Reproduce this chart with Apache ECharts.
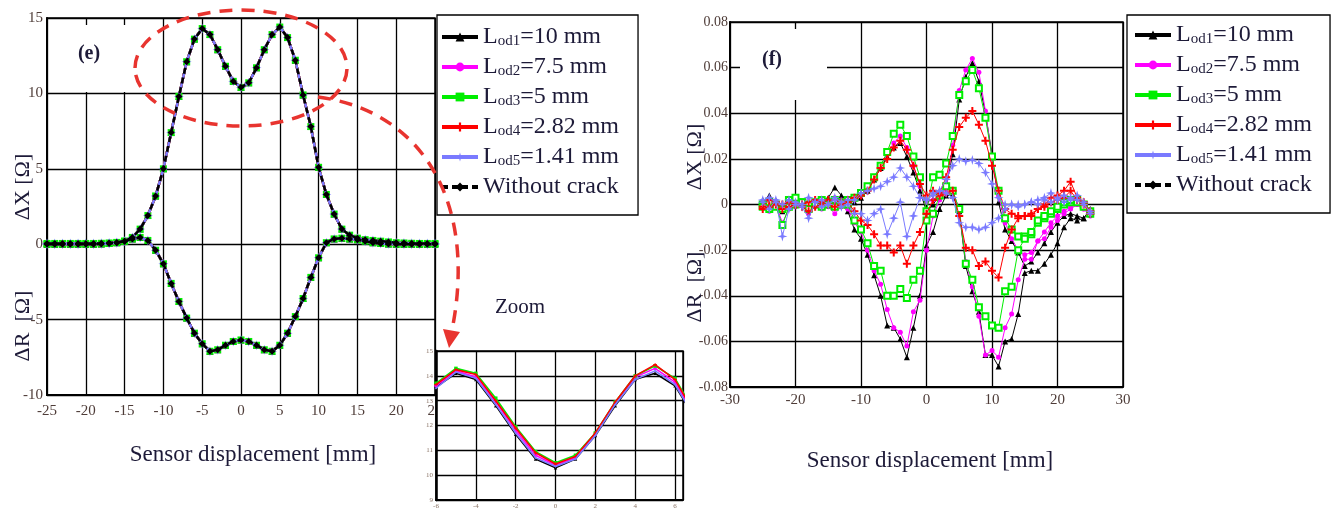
<!DOCTYPE html>
<html>
<head>
<meta charset="utf-8">
<script src="https://cdn.jsdelivr.net/npm/echarts@6/dist/echarts.min.js"></script>
<style>
html,body{margin:0;padding:0;background:#fff;}
#chart{width:1339px;height:511px;}
</style>
</head>
<body>
<div id="chart"></div>
<script>
// Sensor positions [mm]
const POS = [-25,-24,-23,-22,-21,-20,-19,-18,-17,-16,-15,-14,-13,-12,-11,-10,-9,-8,-7,-6,-5,-4,-3,-2,-1,
  0,1,2,3,4,5,6,7,8,9,10,11,12,13,14,15,16,17,18,19,20,21,22,23,24,25];
const INSET_POS = [-6,-5,-4,-3,-2,-1,0,1,2,3,4,5,6,7];

// Series names (legend)
const NAMES = ['Lod1=10 mm','Lod2=7.5 mm','Lod3=5 mm','Lod4=2.82 mm','Lod5=1.41 mm','Without crack'];

// (e) impedance change, all cracks overlap
const E_DX = [0.05,0.05,0.05,0.05,0.05,0.05,0.05,0.06,0.08,0.12,
  0.2,0.45,1.0,1.9,3.2,5.0,7.4,9.8,12.1,13.6,14.3,13.9,12.9,11.8,10.8,
  10.4,10.7,11.7,12.9,13.9,14.4,13.7,12.2,9.9,7.8,5.1,3.3,2.0,1.0,0.6,0.4,0.3,0.25,0.2,0.15,0.1,0.08,0.06,0.05,0.05,0.05];
const E_DR = [0,0,0,0,0,0,0,0.02,0.05,0.1,
  0.2,0.35,0.45,0.25,-0.4,-1.3,-2.6,-3.8,-4.9,-5.9,-6.6,-7.1,-7.0,-6.7,-6.45,
  -6.35,-6.45,-6.7,-7.0,-7.1,-6.7,-5.9,-4.8,-3.6,-2.2,-0.9,0.1,0.35,0.4,0.35,0.3,0.2,0.1,0.05,0.02,0,0,0,0,0,0];

// Zoomed ΔX peaks
const IN_LOD1 = [13.55,14.1,13.85,12.8,11.65,10.65,10.3,10.65,11.6,12.8,13.85,14.1,13.6,12.3];
const IN_LOD2 = [13.6,14.2,13.95,12.95,11.8,10.8,10.4,10.7,11.65,12.9,13.95,14.3,13.75,12.4];
const IN_LOD3 = [13.7,14.3,14.1,13.1,11.95,10.95,10.5,10.8,11.7,12.95,14.0,14.4,13.9,12.5];
const IN_LOD4 = [13.65,14.25,14.05,13.0,11.9,10.9,10.45,10.75,11.7,12.95,14.0,14.45,13.85,12.45];
const IN_LOD5 = [13.5,14.15,13.9,12.85,11.7,10.7,10.35,10.65,11.6,12.85,13.85,14.2,13.65,12.3];

// (f) differential signals
const F_X1 = [0.001,0.004,0.001,-0.001,0.000,0.001,0.000,-0.001,0.001,0.002,0.003,0.0075,0.004,0.002,0.001,
  0.003,0.006,0.011,0.016,0.021,0.025,0.027,0.021,0.014,0.006,-0.003,
  0.000,0.004,0.008,0.022,0.046,0.056,0.062,0.054,0.040,0.022,
  0.001,-0.011,-0.016,-0.021,-0.027,-0.025,-0.021,-0.017,-0.012,-0.008,-0.005,-0.004,-0.005,-0.006,-0.004];
const F_R1 = [0.002,0.001,0.000,-0.003,-0.001,0.000,0.001,-0.001,0.000,0.001,0.001,0.002,0.000,-0.003,-0.011,
  -0.015,-0.022,-0.031,-0.040,-0.053,-0.054,-0.059,-0.067,-0.054,-0.040,-0.018,
  -0.012,-0.002,0.004,0.004,-0.003,-0.027,-0.038,-0.047,-0.066,-0.066,
  -0.071,-0.060,-0.059,-0.048,-0.030,-0.029,-0.029,-0.026,-0.022,-0.017,-0.010,-0.006,-0.007,-0.006,-0.002];
const F_X2 = [0.000,0.002,0.001,-0.002,0.000,0.001,0.000,-0.002,0.000,0.001,0.001,0.003,0.002,0.001,0.002,
  0.004,0.007,0.012,0.017,0.022,0.027,0.030,0.025,0.017,0.008,0.001,
  0.002,0.004,0.007,0.026,0.050,0.059,0.064,0.058,0.041,0.020,
  0.004,-0.008,-0.015,-0.020,-0.022,-0.021,-0.016,-0.012,-0.008,-0.005,-0.003,-0.001,0.000,-0.002,-0.004];
const F_R2 = [-0.001,-0.003,0.000,-0.008,-0.002,-0.001,0.000,-0.004,-0.001,-0.002,-0.001,-0.004,-0.001,-0.002,-0.008,
  -0.012,-0.020,-0.029,-0.035,-0.046,-0.054,-0.056,-0.062,-0.047,-0.042,-0.020,
  -0.005,0.002,0.005,0.006,-0.002,-0.025,-0.036,-0.049,-0.066,-0.064,
  -0.067,-0.054,-0.048,-0.033,-0.024,-0.024,-0.016,-0.015,-0.010,-0.007,-0.004,-0.002,0.000,-0.002,-0.005];
const F_X3 = [0.000,0.001,0.000,-0.002,0.002,0.003,0.001,0.000,0.001,0.002,0.001,0.002,0.001,0.002,0.003,
  0.005,0.008,0.012,0.017,0.023,0.031,0.035,0.030,0.021,0.012,-0.003,
  0.012,0.013,0.018,0.030,0.048,0.054,0.059,0.051,0.038,0.021,
  0.006,-0.006,-0.011,-0.014,-0.014,-0.013,-0.008,-0.006,-0.004,-0.002,0.000,0.001,0.002,0.000,-0.004];
const F_R3 = [-0.001,-0.002,-0.001,-0.009,-0.001,0.000,0.001,-0.002,0.000,-0.001,0.000,-0.001,0.000,0.000,-0.007,
  -0.011,-0.017,-0.027,-0.029,-0.040,-0.040,-0.037,-0.041,-0.033,-0.029,-0.007,
  -0.004,0.004,0.008,0.006,-0.002,-0.026,-0.033,-0.045,-0.049,-0.053,
  -0.054,-0.038,-0.036,-0.020,-0.015,-0.012,-0.007,-0.005,-0.003,-0.001,0.001,0.002,0.001,-0.001,-0.003];
const F_X4 = [-0.001,0.002,0.001,0.000,0.001,0.000,0.000,0.001,0.002,0.001,0.002,0.002,0.001,0.002,0.003,
  0.004,0.006,0.011,0.016,0.020,0.025,0.028,0.024,0.017,0.009,0.004,
  0.006,0.005,0.012,0.024,0.034,0.038,0.041,0.035,0.028,0.017,
  0.006,-0.002,-0.004,-0.005,-0.005,-0.004,-0.002,0.000,0.003,0.004,0.006,0.010,0.003,0.001,-0.003];
const F_R4 = [-0.002,-0.001,0.000,-0.002,-0.001,0.000,-0.001,-0.003,-0.001,0.000,0.000,-0.001,0.000,0.001,-0.003,
  -0.007,-0.009,-0.013,-0.018,-0.018,-0.021,-0.018,-0.026,-0.018,-0.012,-0.004,
  0.002,0.004,0.005,0.006,-0.005,-0.019,-0.020,-0.027,-0.025,-0.029,
  -0.032,-0.019,-0.011,-0.006,-0.005,-0.005,-0.002,-0.001,0.001,0.002,0.003,0.006,0.002,0.000,-0.004];
const F_X5 = [0.002,0.003,0.001,0.000,0.002,0.001,0.000,0.003,0.001,0.002,0.000,0.003,0.001,0.002,0.002,
  0.005,0.006,0.007,0.008,0.010,0.012,0.016,0.012,0.008,0.003,0.002,
  0.005,0.006,0.011,0.017,0.020,0.019,0.0195,0.018,0.014,0.009,
  0.003,0.000,0.000,0.000,0.000,0.001,0.002,0.003,0.005,0.002,0.004,0.002,0.004,0.001,-0.004];
const F_R5 = [0.001,-0.002,0.002,-0.014,-0.002,0.000,-0.001,-0.006,0.001,-0.001,0.000,0.002,-0.001,0.000,-0.004,
  -0.004,-0.007,-0.004,-0.002,-0.013,-0.006,0.001,-0.014,-0.005,0.003,0.002,
  0.004,0.006,0.005,0.003,-0.008,-0.010,-0.010,-0.011,-0.010,-0.008,
  -0.006,-0.002,0.000,-0.001,0.000,0.001,0.000,0.002,0.001,0.003,0.001,0.003,0.002,0.000,-0.003];

const SERIF = '"Liberation Serif", "Times New Roman", serif';
const TICK_COLOR = '#4e3c38';
const TXT = '#1d1a38';
const PLUS = 'path://M-1,-4H1V-1H4V1H1V4H-1V1H-4V-1H-1Z';
const STAR = 'path://M0,-10L2.2,-2.2L10,0L2.2,2.2L0,10L-2.2,2.2L-10,0L-2.2,-2.2Z';

const STYLES = [
  {color:'#000000', symbol:'triangle', sizeE:7, sizeF:6},
  {color:'#ff00ff', symbol:'circle', sizeE:6, sizeF:5},
  {color:'#00ee00', symbol:'rect', sizeE:7, sizeF:6},
  {color:'#ff0000', symbol:PLUS, sizeE:6, sizeF:8},
  {color:'#7a7aff', symbol:STAR, sizeE:10, sizeF:10},
  {color:'#000000', symbol:'diamond', sizeE:7, sizeF:6, dashed:true}
];

const zip = (xs, ys) => xs.map((x, i) => [x, ys[i]]);

function lineSeries(k, axis, xs, ys, width, size, extra) {
  const st = STYLES[k];
  return Object.assign({
    type:'line', name:NAMES[k], xAxisIndex:axis, yAxisIndex:axis,
    data:zip(xs, ys), symbol:st.symbol, symbolSize:size, showSymbol:true,
    lineStyle:{color:st.color, width:width, type:st.dashed ? [6,4] : 'solid'},
    itemStyle:{color:st.color}, animation:false, z:2 + k * 0.1
  }, extra || {});
}

const series = [];
// (e) main plot
for (let k = 0; k < 6; k++) {
  const st = STYLES[k];
  series.push(lineSeries(k, 0, POS, E_DX, 2.5, st.sizeE));
  series.push(lineSeries(k, 0, POS, E_DR, 2.5, st.sizeE));
}
// inset
[IN_LOD1, IN_LOD2, IN_LOD3, IN_LOD4, IN_LOD5].forEach((arr, k) => {
  series.push(lineSeries(k, 1, INSET_POS, arr, 1.6, 3.5, {z:8 + k * 0.1}));
});
// (f) plot
const FX = [F_X1, F_X2, F_X3, F_X4, F_X5];
const FR = [F_R1, F_R2, F_R3, F_R4, F_R5];
for (let k = 0; k < 5; k++) {
  const st = STYLES[k];
  const extra = k === 2 ? {symbol:'emptyRect'} : {};
  series.push(lineSeries(k, 2, POS, FX[k], 1, st.sizeF, extra));
  series.push(lineSeries(k, 2, POS, FR[k], 1, st.sizeF, extra));
}
// reference case in (f) has no signal; kept for the legend
series.push(lineSeries(5, 2, [], [], 1, 6));

function valueAxis(grid, min, max, interval, label, extra) {
  return Object.assign({
    type:'value', gridIndex:grid, min:min, max:max, interval:interval,
    axisLine:{show:true, onZero:false, lineStyle:{color:'#000', width:2}},
    axisTick:{show:false},
    splitLine:{show:true, lineStyle:{color:'#000', width:1.3}},
    axisLabel:Object.assign({fontFamily:SERIF, fontSize:15, color:TICK_COLOR}, label)
  }, extra || {});
}

const richText = {
  L:{fontFamily:SERIF, fontSize:24, color:TXT, lineHeight:26},
  s:{fontFamily:SERIF, fontSize:15, color:TXT, verticalAlign:'bottom', padding:[0,0,1,0]},
  t:{fontFamily:SERIF, fontSize:24, color:TXT, lineHeight:26}
};
function legendLabel(name) {
  if (name.charAt(0) === 'L') {
    return '{L|L}{s|' + name.slice(1, 4) + '}{t|' + name.slice(4) + '}';
  }
  return '{t|' + name + '}';
}
function legendBlock(left, top, pad) {
  return {
    orient:'vertical', left:left, top:top, padding:pad,
    itemWidth:36, itemHeight:11, itemGap:6,
    backgroundColor:'#fff', borderColor:'#000', borderWidth:1.3,
    selectedMode:false,
    formatter:legendLabel,
    textStyle:{fontFamily:SERIF, fontSize:24, color:TXT, rich:richText},
    data:NAMES.map((n, k) => ({
      name:n,
      itemStyle:{color:STYLES[k].color, borderWidth:0},
      lineStyle:{color:STYLES[k].color, width:4, type:STYLES[k].dashed ? [6,4] : 'solid'}
    }))
  };
}

function label(text, x, y, size, rot, weight) {
  return {
    type:'text', x:x, y:y, rotation:rot || 0, z:30,
    style:{text:text, fill:TXT, font:(weight || 'normal') + ' ' + size + 'px ' + SERIF,
      align:'center', verticalAlign:'middle', textAlign:'center', textVerticalAlign:'middle'}
  };
}

const RED = '#e8342f';
const option = {
  backgroundColor:'#fff',
  animation:false,
  grid:[
    {left:47, top:18, width:388, height:377, show:true, borderColor:'#000', borderWidth:1.5, backgroundColor:'#fff'},
    {left:436, top:351, width:247, height:149, show:true, borderColor:'#000', borderWidth:1.5, backgroundColor:'#fff', z:5},
    {left:730, top:22, width:393, height:365, show:true, borderColor:'#000', borderWidth:1.5, backgroundColor:'#fff'}
  ],
  xAxis:[
    valueAxis(0, -25, 25, 5, {margin:9}),
    valueAxis(1, -6, 6.4, 2, {fontSize:7, margin:3, color:'#8a7466', showMaxLabel:false}, {z:5}),
    valueAxis(2, -30, 30, 10, {margin:6})
  ],
  yAxis:[
    valueAxis(0, -10, 15, 5, {margin:4}),
    valueAxis(1, 9, 15, 1, {fontSize:7, margin:3, color:'#8a7466'}, {z:5, axisLine:{show:true, onZero:false, lineStyle:{color:'#000', width:2.5}}}),
    valueAxis(2, -0.08, 0.08, 0.02, {margin:2, fontSize:14})
  ],
  legend:[
    legendBlock(437, 15, [10, 19, 16, 3]),
    legendBlock(1127, 15, [8, 18, 16, 6])
  ],
  series:series,
  graphic:[
    {type:'rect', z:10, shape:{x:49, y:25, width:112, height:67}, style:{fill:'#fff'}},
    label('(e)', 89, 54, 20, 0, 'bold'),
    {type:'rect', z:10, shape:{x:740, y:29, width:87, height:71}, style:{fill:'#fff'}},
    label('(f)', 772, 60, 20, 0, 'bold'),
    label('Zoom', 520, 307, 21),
    label('Sensor displacement [mm]', 253, 455, 23),
    label('Sensor displacement [mm]', 930, 461, 23),
    label('\u0394X [\u03A9]', 23, 187, 22, Math.PI / 2),
    label('\u0394R  [\u03A9]', 23, 326, 22, Math.PI / 2),
    label('\u0394X [\u03A9]', 695, 157, 22, Math.PI / 2),
    label('\u0394R  [\u03A9]', 695, 287, 22, Math.PI / 2),
    {type:'ellipse', z:40, shape:{cx:241, cy:68, rx:106, ry:58},
      style:{fill:'none', stroke:RED, lineWidth:3.5, lineDash:[13, 9]}},
    {type:'bezierCurve', z:40, shape:{x1:318, y1:97, cpx1:420, cpy1:110, cpx2:478, cpy2:200, x2:452, y2:330},
      style:{fill:'none', stroke:RED, lineWidth:3.5, lineDash:[13, 9]}},
    {type:'polygon', z:40, shape:{points:[[449, 348], [443, 329], [460, 332]]}, style:{fill:RED}}
  ]
};

const chart = echarts.init(document.getElementById('chart'), null, {renderer:'canvas'});
chart.setOption(option);
</script>
</body>
</html>
